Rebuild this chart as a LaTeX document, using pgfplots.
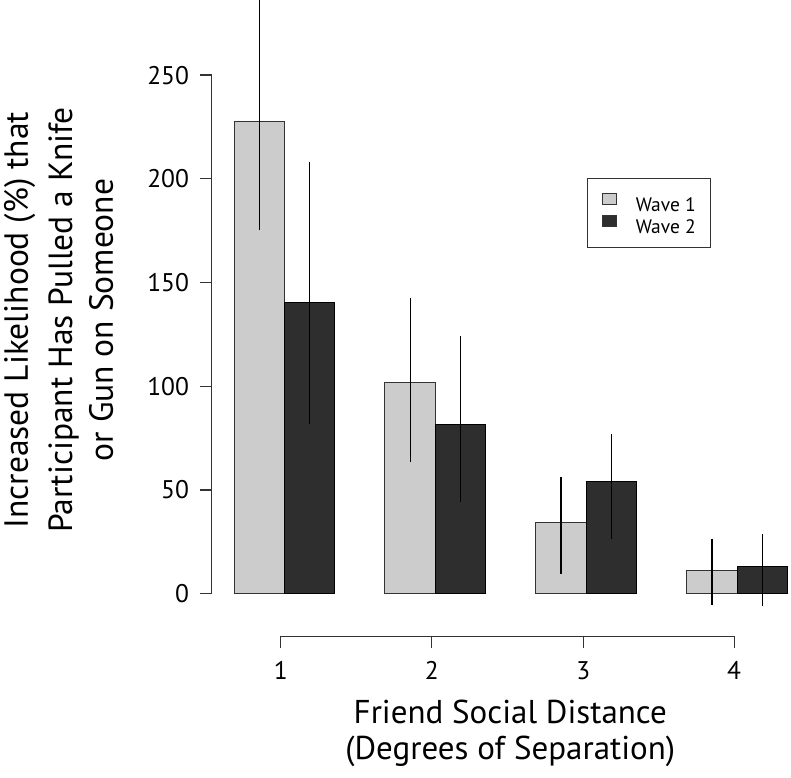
\documentclass[border=0pt]{standalone}
\usepackage{pgfplots}
\pgfplotsset{compat=1.18}
\usepackage{fontspec}
\setmainfont{PT Sans}
\definecolor{lightbar}{HTML}{CCCCCC}
\definecolor{darkbar}{HTML}{2E2E2E}
\definecolor{axgray}{HTML}{333333}
\pgfplotsset{sqleg/.style={legend image code/.code={\draw[##1,draw=axgray,line width=0.8pt] (0pt,0.5pt) rectangle (14pt,11.5pt);}}}
\begin{document}
\begin{tikzpicture}
\begin{axis}[
  name=main,
  at={(0,0)}, anchor=south west,
  scale only axis,
  width=579.1pt, height=518.5pt,
  xmin=0.557, xmax=12.07, ymin=0, ymax=250,
  clip=false,
  axis x line=none,
  axis y line*=left,
  y axis line style={-, line width=1.2pt, color=axgray},
  ytick={0,50,100,150,200,250},
  tick align=outside,
  major tick length=12pt,
  tick style={line width=1.2pt, color=axgray},
  /pgf/number format/assume math mode=true,
  yticklabel style={font=\fontsize{25.5}{28}\selectfont, anchor=east, inner sep=0pt, xshift=-10.5pt},
  ybar, bar width=1,
  legend style={at={(0.6476,0.8008)}, anchor=north west, draw=axgray, line width=1pt, fill=white,
    inner xsep=15pt, inner ysep=14pt, row sep=4pt, column sep=18.7pt,
    font=\fontsize{19.5}{20}\selectfont,
    nodes={inner sep=0pt, text height=13pt, text depth=0pt}},
  legend cell align=left,
]
\addplot[ybar, bar shift=0pt, fill=lightbar, draw=axgray, line width=1pt, sqleg,
  error bars/.cd, y dir=both, y explicit, error mark=none,
  error bar style={black, line width=1.2pt}]
  coordinates {
  (1.5,227.5) += (0,62.5) -= (0,52.3)
  (4.5,101.9) += (0,40.8) -= (0,38.6)
  (7.5,34.2) += (0,22.0) -= (0,24.6)
  (10.5,11.2) += (0,15.3) -= (0,16.8)
  };
\addlegendentry{Wave 1}
\addplot[ybar, bar shift=0pt, fill=darkbar, draw=black, line width=1pt, sqleg,
  error bars/.cd, y dir=both, y explicit, error mark=none,
  error bar style={black, line width=1.2pt}]
  coordinates {
  (2.5,140.3) += (0,67.8) -= (0,58.7)
  (5.5,81.8) += (0,42.4) -= (0,37.5)
  (8.5,54.3) += (0,22.7) -= (0,28.0)
  (11.5,13.0) += (0,15.9) -= (0,19.0)
  };
\addlegendentry{Wave 2}
\node[rotate=90, anchor=base, font=\fontsize{33.5}{33.5}\selectfont] at (axis cs:-3.10,131.9) {Increased Likelihood (\%) that};
\node[rotate=90, anchor=base, font=\fontsize{33.5}{33.5}\selectfont] at (axis cs:-2.22,131.9) {Participant Has Pulled a Knife};
\node[rotate=90, anchor=base, font=\fontsize{33.5}{33.5}\selectfont] at (axis cs:-1.41,131.9) {or Gun on Someone};
\node[anchor=base, font=\fontsize{33}{33}\selectfont] at (axis cs:6.49,-62.5) {Friend Social Distance};
\node[anchor=base, font=\fontsize{33}{33}\selectfont] at (axis cs:6.49,-79.9) {(Degrees of Separation)};
\coordinate (xo) at (axis cs:1.93,-20.44);
\coordinate (bl) at (axis cs:-3.652,-88.44);
\coordinate (tr) at (axis cs:12.07,286.2);
\end{axis}
\begin{axis}[
  at={(xo)}, anchor=south west,
  scale only axis, width=453.2pt, height=1pt,
  xmin=1.93, xmax=10.94, ymin=0, ymax=1,
  axis y line=none, axis x line*=bottom,
  x axis line style={-, line width=1.2pt, color=axgray},
  xtick={1.93,4.93,7.94,10.94}, xticklabels={1,2,3,4},
  tick align=outside, major tick length=12pt,
  tick style={line width=1.2pt, color=axgray},
  xticklabel style={font=\fontsize{25.5}{28}\selectfont, anchor=north, inner sep=0pt, yshift=-13pt},
]
\addplot[draw=none] coordinates {(2,0.5)};
\end{axis}
\pgfresetboundingbox
\path[use as bounding box] (bl) rectangle (tr);
\end{tikzpicture}
\end{document}
